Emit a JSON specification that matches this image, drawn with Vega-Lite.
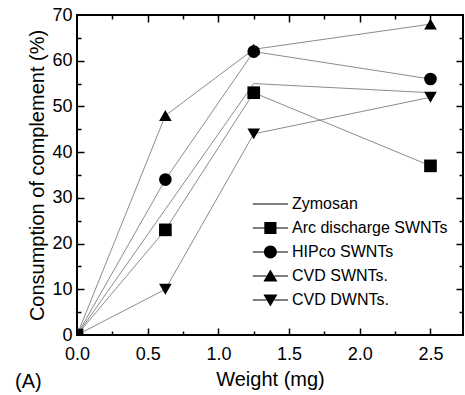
{
  "$schema": "https://vega.github.io/schema/vega-lite/v6.json",
  "width": 386,
  "height": 320,
  "autosize": "none",
  "padding": {"left": 77, "top": 15, "right": 2, "bottom": 60},
  "background": "white",
  "config": {
    "font": "Liberation Sans",
    "view": {"stroke": "black", "strokeWidth": 2},
    "axis": {"labelColor": "black", "titleColor": "black", "tickColor": "black", "labelFont": "Liberation Sans", "titleFont": "Liberation Sans", "titleFontWeight": "normal", "grid": false, "domain": false}
  },
  "title": {"text": "(A)", "orient": "bottom", "anchor": "start", "frame": "group", "dx": -62, "offset": -17, "fontSize": 20, "fontWeight": "normal", "color": "black", "font": "Liberation Sans"},
  "data": {
    "values": [
      {"series": "Zymosan", "weight": 0, "consumption": 0},
      {"series": "Zymosan", "weight": 1.25, "consumption": 55},
      {"series": "Zymosan", "weight": 2.5, "consumption": 53},
      {"series": "Arc discharge SWNTs", "weight": 0, "consumption": 0},
      {"series": "Arc discharge SWNTs", "weight": 0.625, "consumption": 23},
      {"series": "Arc discharge SWNTs", "weight": 1.25, "consumption": 53},
      {"series": "Arc discharge SWNTs", "weight": 2.5, "consumption": 37},
      {"series": "HIPco SWNTs", "weight": 0, "consumption": 0},
      {"series": "HIPco SWNTs", "weight": 0.625, "consumption": 34},
      {"series": "HIPco SWNTs", "weight": 1.25, "consumption": 62},
      {"series": "HIPco SWNTs", "weight": 2.5, "consumption": 56},
      {"series": "CVD SWNTs.", "weight": 0, "consumption": 0},
      {"series": "CVD SWNTs.", "weight": 0.625, "consumption": 48},
      {"series": "CVD SWNTs.", "weight": 1.25, "consumption": 62.5},
      {"series": "CVD SWNTs.", "weight": 2.5, "consumption": 68},
      {"series": "CVD DWNTs.", "weight": 0, "consumption": 0},
      {"series": "CVD DWNTs.", "weight": 0.625, "consumption": 10},
      {"series": "CVD DWNTs.", "weight": 1.25, "consumption": 44},
      {"series": "CVD DWNTs.", "weight": 2.5, "consumption": 52}
    ]
  },
  "resolve": {"scale": {"shape": "independent"}, "axis": {"x": "independent", "y": "independent"}},
  "layer": [
    {
      "mark": {"type": "line", "color": "#8c8c8c", "strokeWidth": 1, "clip": true},
      "encoding": {
        "x": {"field": "weight", "type": "quantitative", "scale": {"domain": [0, 2.73], "nice": false, "zero": false},
          "axis": {"orient": "bottom", "values": [0, 0.5, 1, 1.5, 2, 2.5], "format": ".1f", "ticks": false, "labelFontSize": 18, "labelPadding": 10, "labelFlush": false, "title": "Weight (mg)", "titleFontSize": 20, "titlePadding": 6}},
        "y": {"field": "consumption", "type": "quantitative", "scale": {"domain": [0, 70], "nice": false},
          "axis": {"orient": "left", "values": [0, 10, 20, 30, 40, 50, 60, 70], "format": "d", "ticks": false, "labelFontSize": 18, "labelPadding": 5, "labelFlush": false, "title": "Consumption of complement (%)", "titleFontSize": 20, "titlePadding": 4}},
        "detail": {"field": "series"},
        "order": {"field": "weight"}
      }
    },
    {
      "transform": [{"filter": "datum.series !== 'Zymosan'"}],
      "mark": {"type": "point", "filled": true, "color": "black", "opacity": 1, "size": 160, "clip": true},
      "encoding": {
        "x": {"field": "weight", "type": "quantitative",
          "axis": {"orient": "bottom", "values": [0.25, 0.5, 0.75, 1, 1.25, 1.5, 1.75, 2, 2.25, 2.5], "labels": false, "title": null, "tickWidth": 1.5,
            "tickSize": {"condition": {"test": "round(datum.value*2) === datum.value*2", "value": -7}, "value": -4}}},
        "y": {"field": "consumption", "type": "quantitative",
          "axis": {"orient": "left", "values": [5, 10, 15, 20, 25, 30, 35, 40, 45, 50, 55, 60, 65], "labels": false, "title": null, "tickWidth": 1.5,
            "tickSize": {"condition": {"test": "datum.value % 10 === 0", "value": -7}, "value": -4}}},
        "shape": {"field": "series", "type": "nominal", "legend": null,
          "scale": {"domain": ["Arc discharge SWNTs", "HIPco SWNTs", "CVD SWNTs.", "CVD DWNTs."], "range": ["square", "circle", "triangle-up", "triangle-down"]}}
      }
    },
    {
      "mark": {"type": "point", "filled": true, "color": "black", "opacity": 0, "size": 256},
      "encoding": {
        "x": {"field": "weight", "type": "quantitative",
          "axis": {"orient": "top", "values": [0.25, 0.5, 0.75, 1, 1.25, 1.5, 1.75, 2, 2.25, 2.5], "labels": false, "title": null, "tickWidth": 1.5,
            "tickSize": {"condition": {"test": "round(datum.value*2) === datum.value*2", "value": -7}, "value": -4}}},
        "y": {"field": "consumption", "type": "quantitative",
          "axis": {"orient": "right", "values": [5, 10, 15, 20, 25, 30, 35, 40, 45, 50, 55, 60, 65], "labels": false, "title": null, "tickWidth": 1.5,
            "tickSize": {"condition": {"test": "datum.value % 10 === 0", "value": -7}, "value": -4}}},
        "shape": {"field": "series", "type": "nominal",
          "scale": {"domain": ["Zymosan", "Arc discharge SWNTs", "HIPco SWNTs", "CVD SWNTs.", "CVD DWNTs."],
            "range": [
              "M-3.4,-0.06H1V0.06H-3.4Z",
              "M-3.4,-0.06H-1.9V0.06H-3.4ZM-0.5,-0.06H1V0.06H-0.5ZM-1.96,-0.76H-0.44V0.76H-1.96Z",
              "M-3.4,-0.06H-1.95V0.06H-3.4ZM-0.45,-0.06H1V0.06H-0.45ZM-2.01,0A0.81,0.81 0 1,1 -0.39,0A0.81,0.81 0 1,1 -2.01,0Z",
              "M-3.4,-0.06H-1.7V0.06H-3.4ZM-0.7,-0.06H1V0.06H-0.7ZM-1.2,-0.8L-0.325,0.7L-2.075,0.7Z",
              "M-3.4,-0.06H-1.7V0.06H-3.4ZM-0.7,-0.06H1V0.06H-0.7ZM-1.2,0.8L-2.075,-0.7L-0.325,-0.7Z"
            ]},
          "legend": {"title": null, "orient": "none", "legendX": 195, "legendY": 181, "padding": 0, "symbolSize": 256, "labelFontSize": 16, "labelFont": "Liberation Sans", "labelColor": "black", "labelOffset": 4, "rowPadding": 8, "labelLimit": 300,
            "symbolFillColor": "black", "symbolStrokeWidth": 0, "symbolOpacity": 1,
            "encode": {"symbols": {"update": {"fill": {"value": "black"}, "strokeWidth": {"value": 0}, "opacity": {"value": 1}, "fillOpacity": {"value": 1}}}}}
        }
      }
    }
  ]
}
